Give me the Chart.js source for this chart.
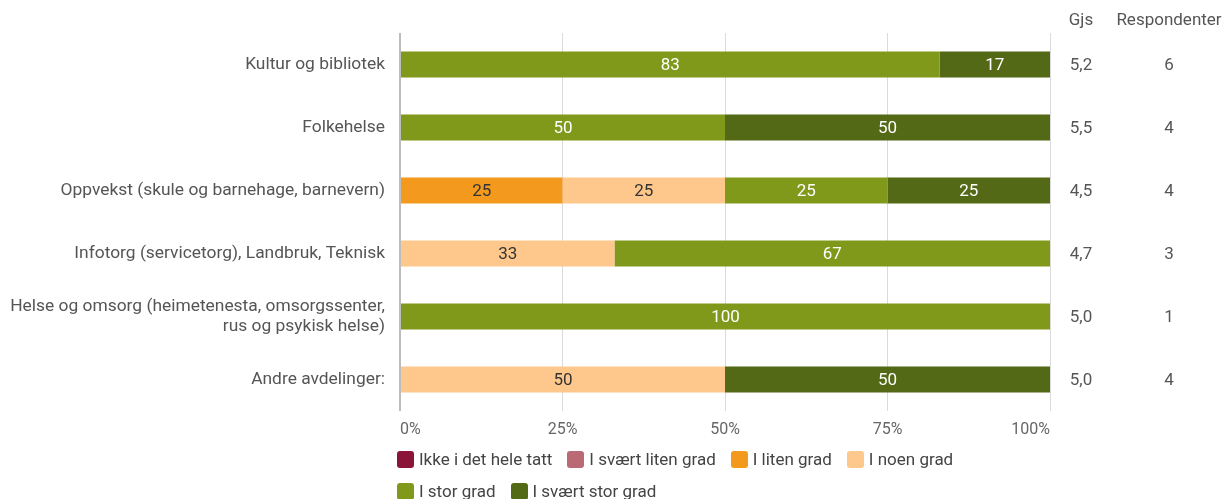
<!DOCTYPE html>
<html>
<head>
<meta charset="utf-8">
<script src="https://cdn.jsdelivr.net/npm/chart.js@4/dist/chart.umd.min.js"></script>
<style>
  html, body { margin: 0; padding: 0; background: #fff; }
  #wrap { position: relative; width: 1227px; height: 499px; }
  #legend { position: absolute; left: 397px; top: 443px; width: 600px; display: flex; flex-wrap: wrap;
    font-family: Roboto, "Noto Sans", sans-serif; font-size: 17px; color: #444; }
  .li { display: flex; align-items: center; height: 32px; margin-right: 15px; }
  .sw { width: 17px; height: 17px; border-radius: 3px; margin-right: 5px; }
</style>
</head>
<body>
<div id="wrap">
  <canvas id="c" width="1227" height="499"></canvas>
  <div id="legend"></div>
</div>
<script>
const categories = [
  "Kultur og bibliotek",
  "Folkehelse",
  "Oppvekst (skule og barnehage, barnevern)",
  "Infotorg (servicetorg), Landbruk, Teknisk",
  ["Helse og omsorg (heimetenesta, omsorgssenter,", "rus og psykisk helse)"],
  "Andre avdelinger:"
];
const seriesNames = ["Ikke i det hele tatt", "I svært liten grad", "I liten grad", "I noen grad", "I stor grad", "I svært stor grad"];
const ikkeIDetHeleTatt = [0, 0, 0, 0, 0, 0];
const iSvaertLitenGrad = [0, 0, 0, 0, 0, 0];
const iLitenGrad       = [0, 0, 25, 0, 0, 0];
const iNoenGrad        = [0, 0, 25, 33, 0, 50];
const iStorGrad        = [83, 50, 25, 67, 100, 0];
const iSvaertStorGrad  = [17, 50, 25, 0, 0, 50];
const gjs = ["5,2", "5,5", "4,5", "4,7", "5,0", "5,0"];
const respondenter = ["6", "4", "4", "3", "1", "4"];
const xTicks = ["0%", "25%", "50%", "75%", "100%"];

const colors = ["#8a1538", "#b96a74", "#f39a1e", "#fec78b", "#80991b", "#546915"];
const labelColors = ["#ffffff", "#ffffff", "#333333", "#333333", "#ffffff", "#ffffff"];
const seriesData = [ikkeIDetHeleTatt, iSvaertLitenGrad, iLitenGrad, iNoenGrad, iStorGrad, iSvaertStorGrad];

const FONT = 'Roboto, "Noto Sans", sans-serif';

const valueLabels = {
  id: 'valueLabels',
  afterDatasetsDraw(chart) {
    const ctx = chart.ctx;
    ctx.save();
    ctx.font = '17px ' + FONT;
    ctx.textAlign = 'center';
    ctx.textBaseline = 'middle';
    chart.data.datasets.forEach((ds, i) => {
      const meta = chart.getDatasetMeta(i);
      meta.data.forEach((bar, j) => {
        const v = ds.data[j];
        if (!v) return;
        const x = (bar.x + bar.base) / 2;
        ctx.fillStyle = labelColors[i];
        ctx.fillText(String(v), x, bar.y + 1);
      });
    });
    ctx.restore();
  }
};

const sideColumns = {
  id: 'sideColumns',
  afterDraw(chart) {
    const ctx = chart.ctx;
    const y = chart.scales.y;
    ctx.save();
    ctx.font = '17px ' + FONT;
    ctx.fillStyle = '#555';
    ctx.textAlign = 'center';
    ctx.textBaseline = 'middle';
    ctx.fillText('Gjs', 1081, 21);
    ctx.fillText('Respondenter', 1169, 21);
    categories.forEach((c, i) => {
      const py = y.getPixelForValue(i);
      ctx.fillText(gjs[i], 1081, py + 1);
      ctx.fillText(respondenter[i], 1169, py + 1);
    });
    ctx.restore();
  }
};

new Chart(document.getElementById('c'), {
  type: 'bar',
  data: {
    labels: categories,
    datasets: seriesNames.map((n, i) => ({
      label: n,
      data: seriesData[i],
      backgroundColor: colors[i],
      borderWidth: 0,
      barPercentage: 0.82,
      categoryPercentage: 0.5
    }))
  },
  options: {
    indexAxis: 'y',
    responsive: false,
    animation: false,
    devicePixelRatio: 1,
    layout: { padding: { left: 0, right: 177, top: 33, bottom: 0 } },
    plugins: { legend: { display: false }, tooltip: { enabled: false } },
    scales: {
      x: {
        stacked: true,
        min: 0, max: 100,
        afterBuildTicks(s) { s.ticks = [0, 25, 50, 75, 100].map(v => ({ value: v })); },
        afterFit(s) { s.height = 88; },
        ticks: {
          align: 'inner',
          padding: 9,
          color: '#666',
          font: { family: FONT, size: 16 },
          callback: (v, i) => xTicks[i]
        },
        grid: {
          color: ctx => ctx.index === 0 ? '#bdbdbd' : '#dadada',
          lineWidth: ctx => ctx.index === 0 ? 2 : 1,
          drawTicks: false
        },
        border: { display: false }
      },
      y: {
        stacked: true,
        afterFit(s) { s.width = 400; },
        grid: { display: false, drawTicks: false },
        border: { display: false },
        ticks: {
          padding: 15,
          color: '#555',
          font: { family: FONT, size: 17.4, lineHeight: 1.12 }
        }
      }
    }
  },
  plugins: [valueLabels, sideColumns]
});

const lg = document.getElementById('legend');
seriesNames.forEach((n, i) => {
  const d = document.createElement('div');
  d.className = 'li';
  d.innerHTML = '<span class="sw" style="background:' + colors[i] + '"></span><span>' + n + '</span>';
  lg.appendChild(d);
});
</script>
</body>
</html>
